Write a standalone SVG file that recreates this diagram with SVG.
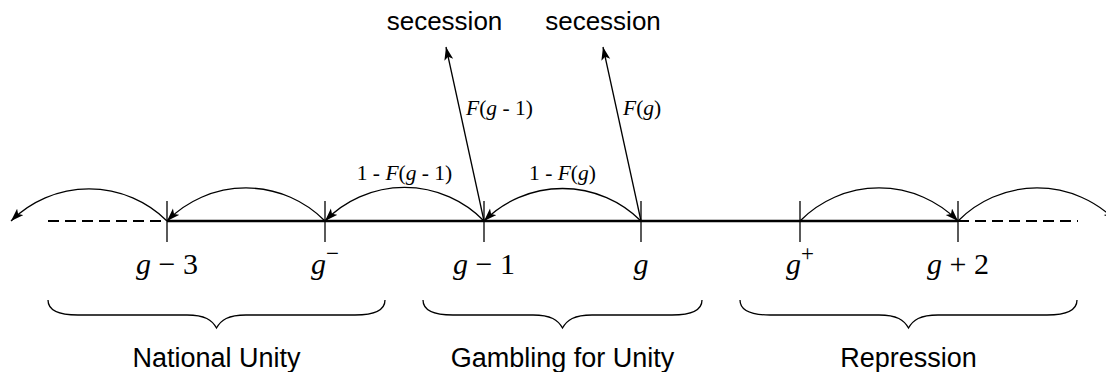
<svg xmlns="http://www.w3.org/2000/svg" width="1106" height="372" viewBox="0 0 1106 372">
<style>
.axis{stroke:#000;stroke-width:2.5;fill:none}
.dash{stroke:#000;stroke-width:2.2;fill:none;stroke-dasharray:11 6}
.tick{stroke:#000;stroke-width:1.3}
.arc{stroke:#000;stroke-width:1.3;fill:none;marker-end:url(#ah)}
.brace{stroke:#000;stroke-width:1.3;fill:none}
.m{font-family:"Liberation Serif","Times New Roman",serif;font-size:30px;fill:#000}
.e{font-family:"Liberation Serif","Times New Roman",serif;font-size:21.5px;fill:#000}
.i{font-style:italic}
.sup{font-size:23px}
.s{font-family:"Liberation Sans",Arial,sans-serif;font-size:26px;fill:#000}
.b{font-family:"Liberation Sans",Arial,sans-serif;font-size:27px;fill:#000}
</style>
<defs>
<marker id="ah" markerUnits="userSpaceOnUse" markerWidth="14" markerHeight="10" refX="13" refY="4.5" orient="auto">
<path d="M0,0 L13,4.5 L0,9 L3,4.5 z" fill="#000"/>
</marker>
</defs>
<g id="axis">
<line class="dash" x1="48" y1="221" x2="167" y2="221"/>
<line class="axis" x1="167" y1="221" x2="958" y2="221"/>
<line class="dash" x1="958" y1="221" x2="1078" y2="221"/>
</g>
<g id="n-g-3">
<line class="tick" x1="167" y1="201" x2="167" y2="242"/>
<text class="m" x="167" y="274" text-anchor="middle"><tspan class="i">g</tspan> − 3</text>
</g>
<g id="n-g-minus">
<line class="tick" x1="325" y1="201" x2="325" y2="242"/>
<text class="m" x="325" y="274" text-anchor="middle"><tspan class="i">g</tspan><tspan class="sup" dy="-13">−</tspan></text>
</g>
<g id="n-g-1">
<line class="tick" x1="484" y1="201" x2="484" y2="242"/>
<text class="m" x="484" y="274" text-anchor="middle"><tspan class="i">g</tspan> − 1</text>
</g>
<g id="n-g">
<line class="tick" x1="641" y1="201" x2="641" y2="242"/>
<text class="m i" x="641" y="274" text-anchor="middle">g</text>
</g>
<g id="n-g-plus">
<line class="tick" x1="800" y1="201" x2="800" y2="242"/>
<text class="m" x="800" y="274" text-anchor="middle"><tspan class="i">g</tspan><tspan class="sup" dy="-13">+</tspan></text>
</g>
<g id="n-g-2">
<line class="tick" x1="958" y1="201" x2="958" y2="242"/>
<text class="m" x="958" y="274" text-anchor="middle"><tspan class="i">g</tspan> + 2</text>
</g>
<g id="n-secession-1">
<text class="s" x="444.5" y="30" text-anchor="middle">secession</text>
</g>
<g id="n-secession-2">
<text class="s" x="603" y="30" text-anchor="middle">secession</text>
</g>
<g id="connectors">
<path class="arc" d="M167,221 A111,111 0 0 0 11,221"/>
<path class="arc" d="M325,221 A111,111 0 0 0 167,221"/>
<path class="arc" d="M484,221 A111,111 0 0 0 325,221"/>
<path class="arc" d="M641,221 A111,111 0 0 0 484,221"/>
<path class="arc" d="M800,221 A111,111 0 0 1 958,221"/>
<path class="arc" d="M958,221 A111,111 0 0 1 1116,221"/>
<path class="arc" d="M484,221 L446,47"/>
<path class="arc" d="M641,221 L603,47"/>
</g>
<g id="edge-labels">
<text class="e" x="404.5" y="180" text-anchor="middle">1 - <tspan class="i">F</tspan>(<tspan class="i">g</tspan> - 1)</text>
<text class="e" x="562.5" y="180" text-anchor="middle">1 - <tspan class="i">F</tspan>(<tspan class="i">g</tspan>)</text>
<text class="e" x="466" y="115"><tspan class="i">F</tspan>(<tspan class="i">g</tspan> - 1)</text>
<text class="e" x="623" y="115"><tspan class="i">F</tspan>(<tspan class="i">g</tspan>)</text>
</g>
<g id="brace-national-unity">
<path class="brace" d="M48,300 C48,310 58,315 78,315 L187,315 C205,315 212,320 216.5,328 C221,320 228,315 246,315 L355,315 C375,315 385,310 385,300"/>
<text class="b" x="216.5" y="367" text-anchor="middle">National Unity</text>
</g>
<g id="brace-gambling">
<path class="brace" d="M423,300 C423,310 433,315 453,315 L533,315 C551,315 558,320 562.5,328 C567,320 574,315 592,315 L672,315 C692,315 702,310 702,300"/>
<text class="b" x="562.5" y="367" text-anchor="middle">Gambling for Unity</text>
</g>
<g id="brace-repression">
<path class="brace" d="M740,300 C740,310 750,315 770,315 L879,315 C897,315 904,320 908.5,328 C913,320 920,315 938,315 L1047,315 C1067,315 1077,310 1077,300"/>
<text class="b" x="908.5" y="367" text-anchor="middle">Repression</text>
</g>
</svg>
